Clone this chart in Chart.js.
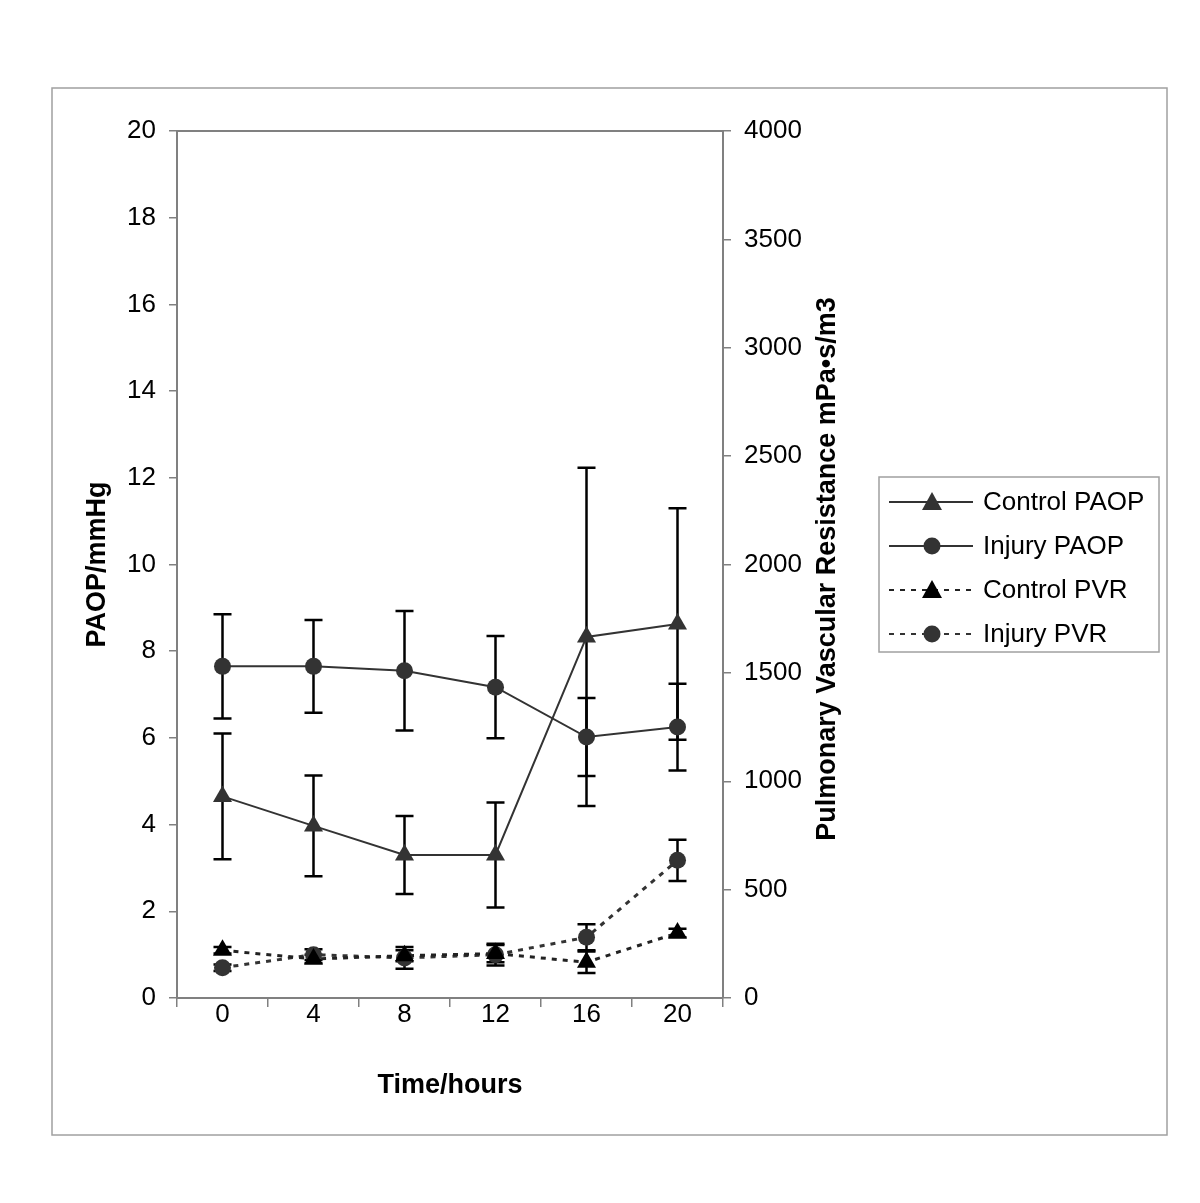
<!DOCTYPE html>
<html>
<head>
<meta charset="utf-8">
<script src="https://cdn.jsdelivr.net/npm/chart.js@4.4.0/dist/chart.umd.min.js"></script>
<style>
  html, body { margin: 0; padding: 0; background: #fff; }
  #wrap { width: 1200px; height: 1203px; position: relative; }
</style>
</head>
<body>
<div id="wrap"><canvas id="grafica" width="1200" height="1203"></canvas></div>
<script>
// time points (hours)
var hours = ['0', '4', '8', '12', '16', '20'];

// PAOP, mmHg (left axis)
var controlPaop = [4.65, 3.97, 3.3, 3.3, 8.33, 8.63];
var controlPaopErr = [1.45, 1.16, 0.9, 1.21, 3.9, 2.67];
var injuryPaop = [7.65, 7.65, 7.55, 7.17, 6.02, 6.25];
var injuryPaopErr = [1.2, 1.07, 1.38, 1.18, 0.9, 1.0];

// PVR, mPa*s/m3 (right axis)
var controlPvr = [220, 180, 195, 205, 165, 300];
var controlPvrErr = [15, 20, 25, 40, 50, 20];
var injuryPvr = [140, 200, 185, 200, 280, 635];
var injuryPvrErr = [15, 25, 50, 50, 60, 95];

var FONT = "'Liberation Sans', Arial, sans-serif";

// error bars, drawn through the dataset's own scale
var errorBars = {
  id: 'errorBars',
  beforeDatasetsDraw: function (chart) {
    var ctx = chart.ctx;
    chart.data.datasets.forEach(function (ds, i) {
      if (!ds.err) return;
      var meta = chart.getDatasetMeta(i);
      var sc = chart.scales[ds.yAxisID];
      ctx.save();
      ctx.strokeStyle = '#000';
      ctx.lineWidth = 2.5;
      meta.data.forEach(function (pt, j) {
        var top = sc.getPixelForValue(ds.data[j] + ds.err[j]);
        var bot = sc.getPixelForValue(ds.data[j] - ds.err[j]);
        ctx.beginPath();
        ctx.moveTo(pt.x, top); ctx.lineTo(pt.x, bot);
        ctx.moveTo(pt.x - 9, top); ctx.lineTo(pt.x + 9, top);
        ctx.moveTo(pt.x - 9, bot); ctx.lineTo(pt.x + 9, bot);
        ctx.stroke();
      });
      ctx.restore();
    });
  }
};

// frame, plot box top line, right axis title and legend
var decor = {
  id: 'decor',
  afterDraw: function (chart) {
    var ctx = chart.ctx;
    var a = chart.chartArea;
    ctx.save();
    ctx.strokeStyle = '#a0a0a0';
    ctx.lineWidth = 1.5;
    ctx.strokeRect(52, 88, 1115, 1047);

    ctx.strokeStyle = '#808080';
    ctx.lineWidth = 2;
    ctx.beginPath();
    ctx.moveTo(a.left, a.top); ctx.lineTo(a.right, a.top);
    ctx.stroke();

    // right axis title reads bottom to top
    ctx.save();
    ctx.translate(828, 569);
    ctx.rotate(-Math.PI / 2);
    ctx.fillStyle = '#000';
    ctx.font = 'bold 27px ' + FONT;
    ctx.textAlign = 'center';
    ctx.textBaseline = 'middle';
    ctx.fillText('Pulmonary Vascular Resistance mPa\u2022s/m3', 0, 0);
    ctx.restore();

    // legend
    ctx.strokeStyle = '#a0a0a0';
    ctx.lineWidth = 1.5;
    ctx.strokeRect(879, 477, 280, 175);
    var rows = [502, 546, 590, 634];
    chart.data.datasets.forEach(function (ds, i) {
      var y = rows[i];
      ctx.save();
      ctx.strokeStyle = ds.borderColor;
      ctx.lineWidth = 2;
      ctx.setLineDash(ds.borderDash || []);
      ctx.beginPath();
      ctx.moveTo(889, y); ctx.lineTo(973, y);
      ctx.stroke();
      ctx.restore();
      ctx.save();
      ctx.fillStyle = ds.pointBackgroundColor;
      ctx.beginPath();
      if (ds.pointStyle === 'triangle') {
        ctx.moveTo(932, y - 10); ctx.lineTo(942, y + 8); ctx.lineTo(922, y + 8);
        ctx.closePath();
      } else {
        ctx.arc(932, y, 8.5, 0, Math.PI * 2);
      }
      ctx.fill();
      ctx.restore();
      ctx.fillStyle = '#000';
      ctx.font = '26px ' + FONT;
      ctx.textAlign = 'left';
      ctx.textBaseline = 'middle';
      ctx.fillText(ds.label, 983, y + 1);
    });
    ctx.restore();
  }
};

var grafica = document.getElementById('grafica');
var myChart = new Chart(grafica, {
  type: 'line',
  data: {
    labels: hours,
    datasets: [{
      label: 'Control PAOP',
      data: controlPaop,
      err: controlPaopErr,
      yAxisID: 'y',
      borderColor: '#333',
      borderWidth: 2,
      pointStyle: 'triangle',
      pointRadius: 11,
      pointBackgroundColor: '#333',
      pointBorderColor: '#333',
      pointBorderWidth: 0
    }, {
      label: 'Injury PAOP',
      data: injuryPaop,
      err: injuryPaopErr,
      yAxisID: 'y',
      borderColor: '#333',
      borderWidth: 2,
      pointStyle: 'circle',
      pointRadius: 8.5,
      pointBackgroundColor: '#333',
      pointBorderColor: '#333',
      pointBorderWidth: 0
    }, {
      label: 'Control PVR',
      data: controlPvr,
      err: controlPvrErr,
      yAxisID: 'y1',
      borderColor: '#222',
      borderWidth: 3,
      borderDash: [5, 6],
      pointStyle: 'triangle',
      pointRadius: 11,
      pointBackgroundColor: '#000',
      pointBorderColor: '#000',
      pointBorderWidth: 0
    }, {
      label: 'Injury PVR',
      data: injuryPvr,
      err: injuryPvrErr,
      yAxisID: 'y1',
      borderColor: '#333',
      borderWidth: 3,
      borderDash: [5, 6],
      pointStyle: 'circle',
      pointRadius: 8.5,
      pointBackgroundColor: '#333',
      pointBorderColor: '#333',
      pointBorderWidth: 0
    }]
  },
  options: {
    responsive: false,
    animation: false,
    events: [],
    layout: { padding: { top: 131, left: 77, right: 357, bottom: 97 } },
    plugins: { legend: { display: false }, tooltip: { enabled: false } },
    scales: {
      x: {
        offset: true,
        grid: { offset: true, drawOnChartArea: false, tickLength: 9, color: '#808080', lineWidth: 1.5 },
        border: { color: '#808080', width: 2 },
        ticks: { color: '#000', font: { family: FONT, size: 26 }, padding: -8, maxRotation: 0 },
        title: { display: true, text: 'Time/hours', color: '#000', font: { family: FONT, size: 27, weight: 'bold' } },
        afterFit: function (s) { s.height = 108; }
      },
      y: {
        position: 'left',
        min: 0, max: 20,
        ticks: { stepSize: 2, color: '#000', font: { family: FONT, size: 26 }, padding: 13 },
        grid: { drawOnChartArea: false, tickLength: 8, color: '#808080', lineWidth: 1.5 },
        border: { color: '#808080', width: 2 },
        title: { display: true, text: 'PAOP/mmHg', color: '#000', font: { family: FONT, size: 27, weight: 'bold' } },
        afterFit: function (s) { s.width = 100; }
      },
      y1: {
        position: 'right',
        min: 0, max: 4000,
        ticks: {
          stepSize: 500, color: '#000', font: { family: FONT, size: 26 }, padding: 13,
          callback: function (v) { return String(v); }
        },
        grid: { drawOnChartArea: false, tickLength: 8, color: '#808080', lineWidth: 1.5 },
        border: { color: '#808080', width: 2 },
        afterFit: function (s) { s.width = 120; }
      }
    }
  },
  plugins: [errorBars, decor]
});
</script>
</body>
</html>
